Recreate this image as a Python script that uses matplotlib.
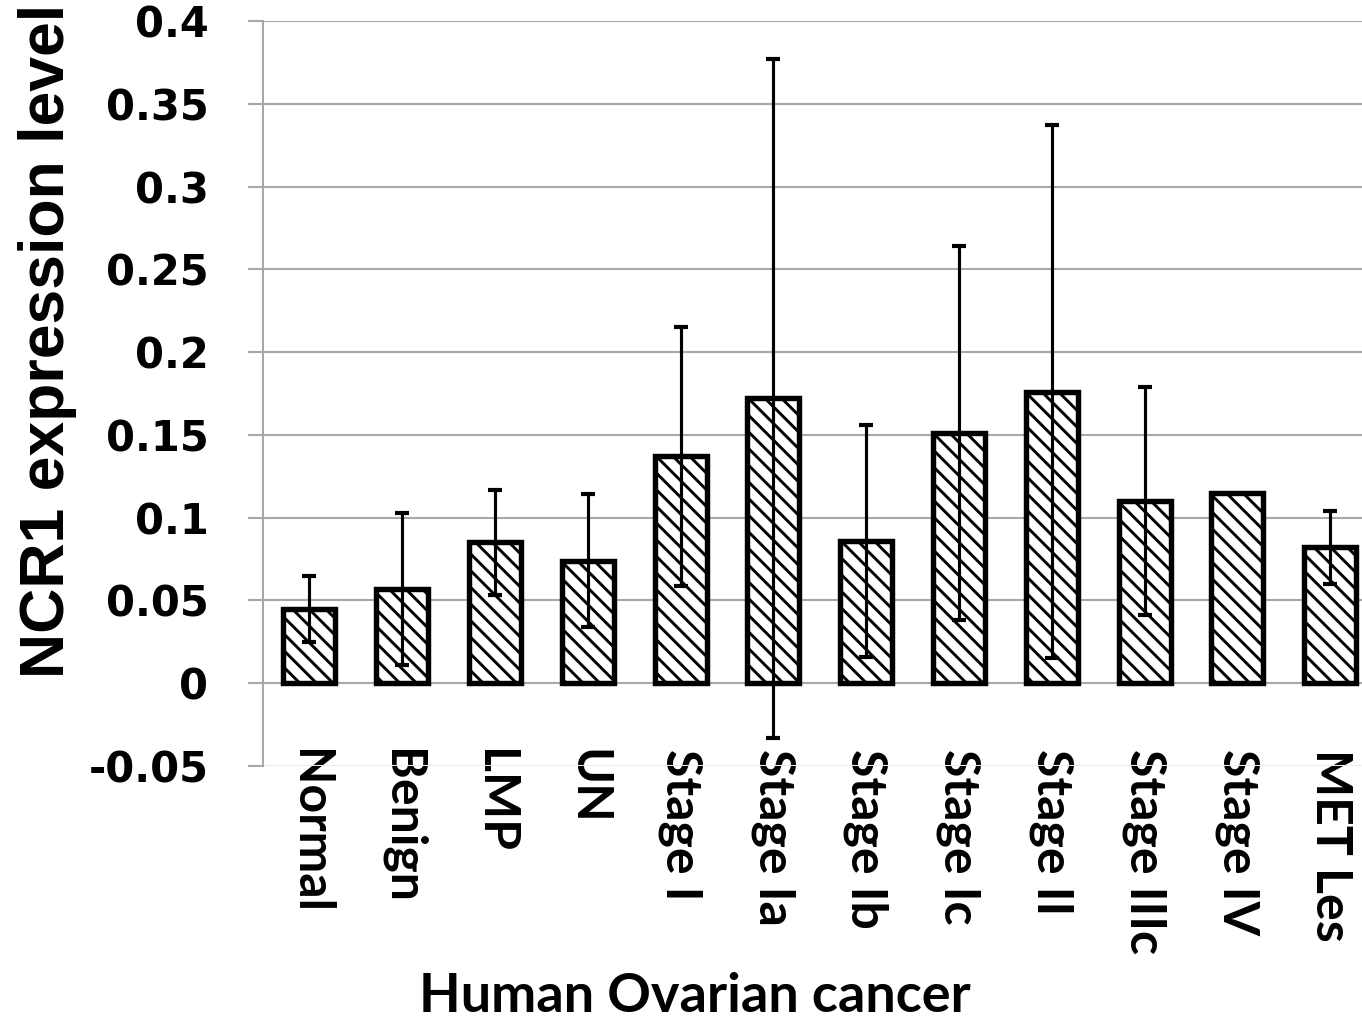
import matplotlib
matplotlib.use("Agg")
from matplotlib import pyplot as plt
import numpy as np

categories = ["Normal", "Benign", "LMP", "UN", "Stage I", "Stage Ia", "Stage Ib",
              "Stage Ic", "Stage II", "Stage IIIc", "Stage IV", "MET Les"]
means = [0.045, 0.057, 0.085, 0.074, 0.137, 0.172, 0.086, 0.151, 0.176, 0.110, 0.115, 0.082]
errors = [0.020, 0.046, 0.032, 0.040, 0.078, 0.205, 0.070, 0.113, 0.161, 0.069, None, 0.022]
y_ticks = [-0.05, 0, 0.05, 0.1, 0.15, 0.2, 0.25, 0.3, 0.35, 0.4]
y_tick_labels = ["-0.05", "0", "0.05", "0.1", "0.15", "0.2", "0.25", "0.3", "0.35", "0.4"]

plt.rcParams["hatch.linewidth"] = 1.4

fig = plt.figure(figsize=(9.08, 6.7935), dpi=150)
ax = fig.add_axes([263 / 1362, 1 - 766 / 1019, 1113.6 / 1362, 745 / 1019])

x = np.arange(len(categories))
ax.bar(x, means, width=0.56, color="white", edgecolor="black", linewidth=2.6,
       hatch="\\\\\\", zorder=2)

err_idx = [i for i, e in enumerate(errors) if e is not None]
ax.errorbar([x[i] for i in err_idx], [means[i] for i in err_idx],
            yerr=[errors[i] for i in err_idx], fmt="none", ecolor="black",
            elinewidth=1.5, capsize=3.2, capthick=2.0, zorder=3)

ax.set_xlim(-0.5, len(categories) - 0.5)
ax.set_ylim(-0.05, 0.4)
ax.set_yticks(y_ticks)
ax.set_yticklabels(y_tick_labels, fontsize=20, fontweight="bold", family="DejaVu Sans")
ax.tick_params(axis="y", length=7.2, width=1.0, color="#a8a8a8", pad=19)

ax.set_xticks(x)
ax.set_xticklabels(categories, rotation=-90, fontsize=24, fontweight="bold",
                   family=["Lato", "DejaVu Sans"], va="top", ha="center")
ax.tick_params(axis="x", length=0, pad=-8)

ax.grid(axis="y", color="#a8a8a8", linewidth=1.0)
ax.yaxis.get_gridlines()[0].set_color("#ececec")
ax.set_axisbelow(True)
for side in ["top", "right", "bottom"]:
    ax.spines[side].set_visible(False)
ax.spines["left"].set_color("#a8a8a8")
ax.spines["left"].set_linewidth(1.0)

fig.text(48 / 1362, 1 - 341 / 1019, "NCR1 expression level", rotation=90,
         fontsize=30, fontweight="bold", family=["Liberation Sans", "DejaVu Sans"],
         ha="center", va="center")
fig.text(695 / 1362, 1 - 1012 / 1019, "Human Ovarian cancer", fontsize=26,
         fontweight="bold", family=["Lato", "DejaVu Sans"], ha="center", va="baseline")

fig.savefig("out.png", dpi=150, facecolor="white")
